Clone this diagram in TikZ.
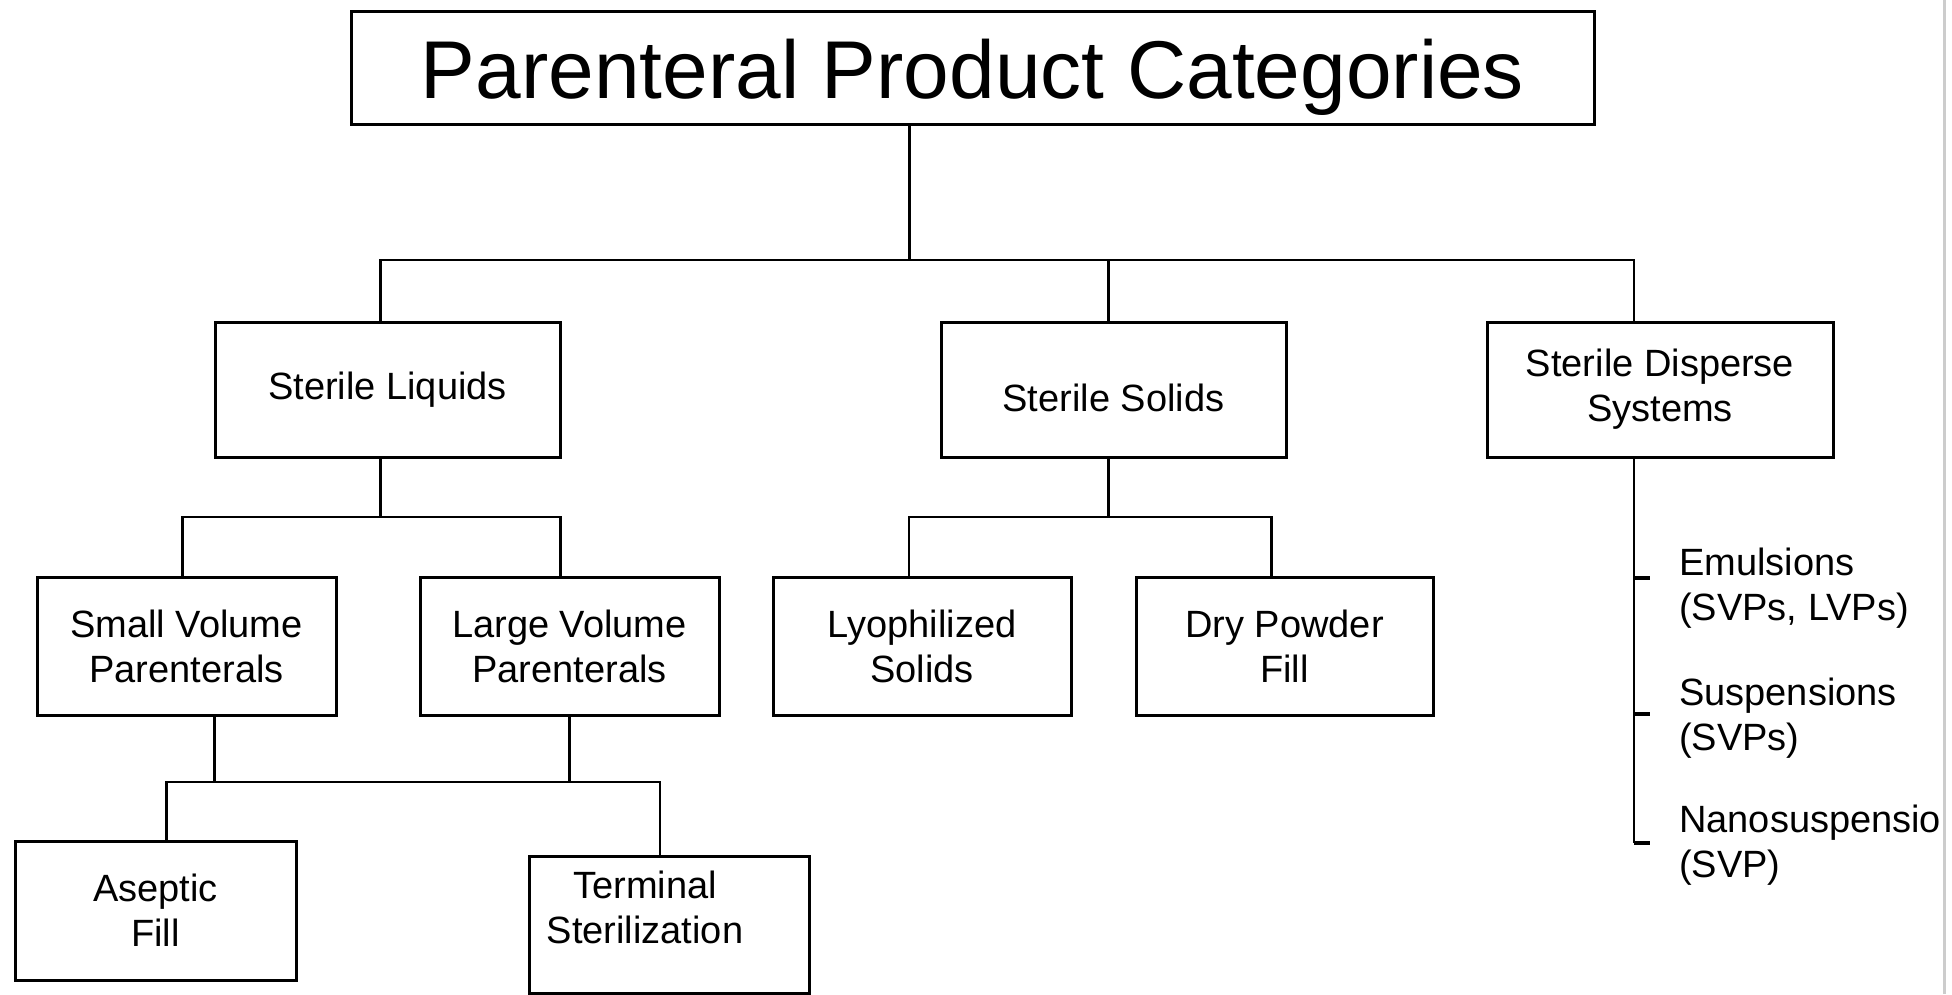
\documentclass[tikz,border=0pt]{standalone}
\usepackage{fontspec}
\setmainfont{Liberation Sans}
\usetikzlibrary{positioning,calc}

\begin{document}
\begin{tikzpicture}[x=1pt,y=1pt,
  every node/.style={font=\fontsize{38}{45}\selectfont, text=black},
  cat/.style={draw, line width=3pt, fill=white, align=center, inner sep=0pt},
  link/.style={line width=2.5pt},
  item/.style={anchor=west, align=left, inner sep=0pt},
]
  \useasboundingbox (0,0) rectangle (1952,-994);

  % TOP
  \node[cat, minimum width=1243, minimum height=113,
        label={[yshift=-9pt,font=\fontsize{82}{92}\selectfont]center:Parenteral Product Categories}]
    (title) at (972.5,-68) {};

  % LEVEL 2
  \node[cat, minimum width=345, minimum height=135] (liq)  at ( 387.5,-389.5) {Sterile Liquids};
  \node[cat, minimum width=345, minimum height=135,
        label={[yshift=-8pt]center:Sterile Solids}] (sol) at (1113.5,-389.5) {};
  \node[cat, minimum width=346, minimum height=135] (disp) at (1660,  -389.5) {Sterile Disperse\\Systems};

  % LEVEL 3
  \node[cat, minimum width=299, minimum height=138] (svp) at ( 186.5,-646) {Small Volume\\Parenterals};
  \node[cat, minimum width=299, minimum height=138] (lvp) at ( 569.5,-646) {Large Volume\\Parenterals};
  \node[cat, minimum width=298, minimum height=138] (lyo) at ( 922,  -646) {Lyophilized\\Solids};
  \node[cat, minimum width=297, minimum height=138] (dry) at (1284.5,-646) {Dry Powder\\Fill};

  % LEVEL 4
  \node[cat, minimum width=281, minimum height=139] (asep) at (155.5,-910.5) {Aseptic\\Fill};
  \node[cat, minimum width=280, minimum height=137,
        label={[xshift=-24pt,yshift=17pt,align=center]center:Terminal\\Sterilization}]
    (term) at (669,-924.5) {};

  % Bars
  \coordinate (b1) at (0,-260);
  \coordinate (b2) at (0,-517);
  \coordinate (b3) at (0,-782);
  \coordinate (trunk) at ([xshift=-63pt]title.south);
  \coordinate (ltop)  at ([xshift=-7pt]liq.north);
  \coordinate (lbot)  at ([xshift=-7pt]liq.south);
  \coordinate (stop)  at ([xshift=-5pt]sol.north);
  \coordinate (sbot)  at ([xshift=-5pt]sol.south);
  \coordinate (dtop)  at ([xshift=-26pt]disp.north);
  \coordinate (dbot)  at ([xshift=-26pt]disp.south);
  \coordinate (svpx)  at ([xshift=28pt]svp.south);

  \draw[link] (trunk) -- (trunk |- b1);
  \draw[link] (ltop) |- (dtop |- b1) -- (dtop);
  \draw[link] (stop) -- (stop |- b1);

  \draw[link] (lbot) -- (lbot |- b2);
  \draw[link] ([xshift=-4pt]svp.north) |- ([xshift=-9pt]b2 -| lvp.north) -- ([xshift=-9pt]lvp.north);
  \draw[link] (sbot) -- (sbot |- b2);
  \draw[link] ([xshift=-13pt]lyo.north) |- ([xshift=-13pt]b2 -| dry.north) -- ([xshift=-13pt]dry.north);

  \draw[link] (svpx) -- (svpx |- b3);
  \draw[link] (lvp.south) -- (lvp.south |- b3);
  \draw[link] ([xshift=11pt]asep.north) |- ([xshift=-9pt]b3 -| term.north) -- ([xshift=-9pt]term.north);

  % Disperse list
  \node[item] (emu)  at (1679,-588) {Emulsions\\(SVPs, LVPs)};
  \node[item] (sus)  at (1679,-718) {Suspensions\\(SVPs)};
  \node[item] (nano) at (1679,-845) {Nanosuspension\\(SVP)};
  \draw[link] (dbot) -- (dbot |- 0,-843);
  \draw[line width=4pt] (dbot |- 0,-578) -- ++(16,0);
  \draw[line width=4pt] (dbot |- 0,-714) -- ++(16,0);
  \draw[line width=4pt] (dbot |- 0,-843) -- ++(16,0);

  % right edge
  \fill[white] (1946,0) rectangle (1952,-994);
  \draw[gray!40, line width=3pt] (1944,0) -- (1944,-994);
\end{tikzpicture}
\end{document}
